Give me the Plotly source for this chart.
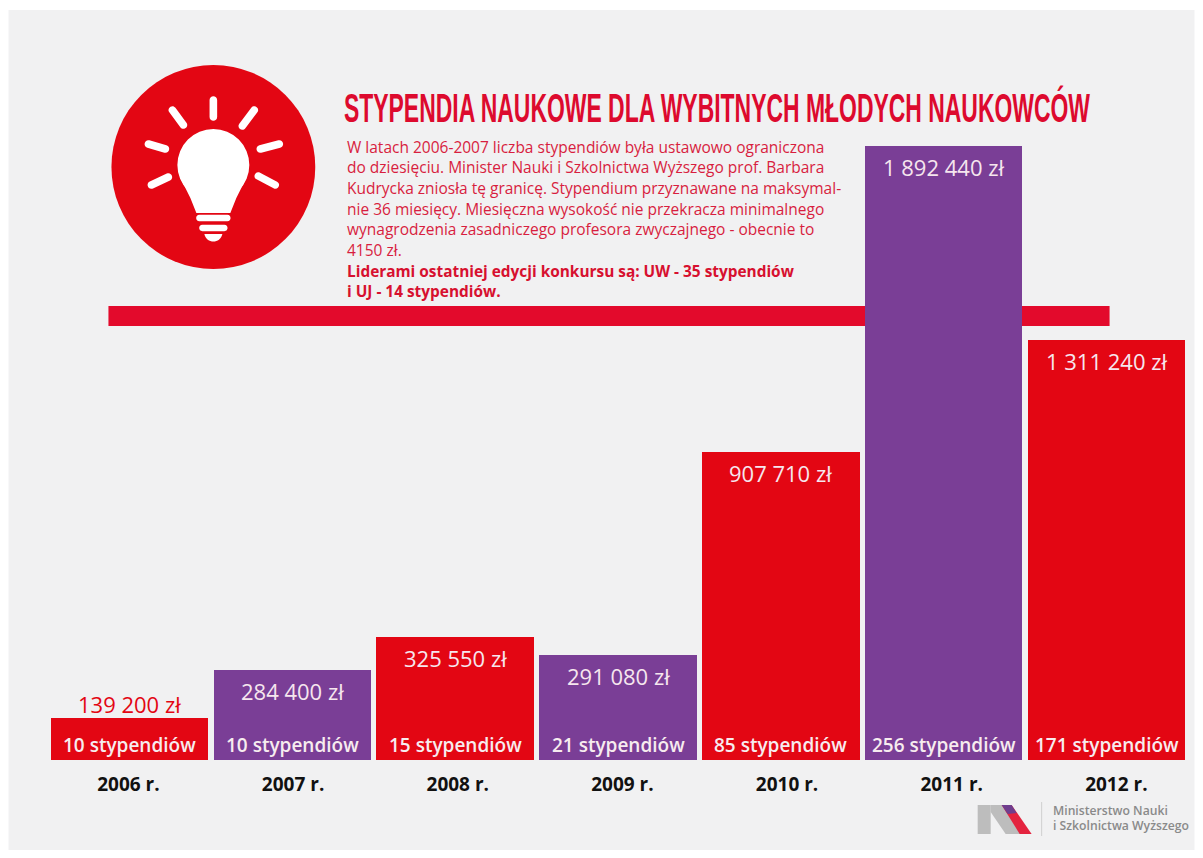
import plotly.graph_objects as go

# ---- data ----
years = ["2006 r.", "2007 r.", "2008 r.", "2009 r.", "2010 r.", "2011 r.", "2012 r."]
amount_labels = ["139 200 zł", "284 400 zł", "325 550 zł", "291 080 zł", "907 710 zł", "1 892 440 zł", "1 311 240 zł"]
# The infographic's bars are not strictly proportional to the printed amounts,
# so these are the bar heights as drawn, read on the 2011 bar's scale (zł).
drawn_heights = [129000, 277000, 379000, 324000, 949000, 1892440, 1294000]
grant_labels = ["10 stypendiów", "10 stypendiów", "15 stypendiów", "21 stypendiów", "85 stypendiów", "256 stypendiów", "171 stypendiów"]
bar_colors = ["#E30613", "#7A3E96", "#E30613", "#7A3E96", "#E30613", "#7A3E96", "#E30613"]

title = "STYPENDIA NAUKOWE DLA WYBITNYCH MŁODYCH NAUKOWCÓW"
body_lines = [
    "W latach 2006-2007 liczba stypendiów była ustawowo ograniczona",
    "do dziesięciu. Minister Nauki i Szkolnictwa Wyższego prof. Barbara",
    "Kudrycka zniosła tę granicę. Stypendium przyznawane na maksymal-",
    "nie 36 miesięcy. Miesięczna wysokość nie przekracza minimalnego",
    "wynagrodzenia zasadniczego profesora zwyczajnego - obecnie to",
    "4150 zł.",
]
bold_lines = ["Liderami ostatniej edycji konkursu są: UW - 35 stypendiów", "i UJ - 14 stypendiów."]
logo_lines = ["Ministerstwo Nauki", "i Szkolnictwa Wyższego"]

RED = "#E30613"
TEXT_RED = "#D81E3F"
W, H = 1187, 842   # page body margin of 8px supplies the white frame
LEFT, RIGHT, TOP, BASE = 47.5, 1188.5, 8, 760   # plot area in page pixels


def X(px):
    return (px - LEFT) / (RIGHT - LEFT)


def Y(py):
    return (BASE - py) / (BASE - TOP)


def P(x, y):
    return f"{X(x):.5f},{Y(y):.5f}"


def poly(points, color, layer="below"):
    d = "M" + "L".join(P(x, y) for x, y in points) + "Z"
    return dict(type="path", path=d, xref="paper", yref="paper", fillcolor=color, line_width=0, layer=layer)


def capsule(x0, y0, x1, y1, r):
    dx, dy = x1 - x0, y1 - y0
    n = (dx * dx + dy * dy) ** 0.5
    ux, uy = dx / n, dy / n
    nx, ny = -uy * r, ux * r
    k = 1.33 * r
    d = ("M" + P(x0 + nx, y0 + ny) + "L" + P(x1 + nx, y1 + ny)
         + "C" + P(x1 + nx + ux * k, y1 + ny + uy * k) + " " + P(x1 - nx + ux * k, y1 - ny + uy * k) + " " + P(x1 - nx, y1 - ny)
         + "L" + P(x0 - nx, y0 - ny)
         + "C" + P(x0 - nx - ux * k, y0 - ny - uy * k) + " " + P(x0 + nx - ux * k, y0 + ny - uy * k) + " " + P(x0 + nx, y0 + ny) + "Z")
    return dict(type="path", path=d, xref="paper", yref="paper", fillcolor="white", line_width=0, layer="below")


def circle(cx, cy, r, color):
    return dict(type="circle", xref="paper", yref="paper", x0=X(cx - r), x1=X(cx + r), y0=Y(cy + r), y1=Y(cy - r),
                fillcolor=color, line_width=0, layer="below")


shapes = [
    dict(type="rect", xref="paper", yref="paper", x0=X(8), x1=X(1195), y0=Y(850), y1=Y(10), fillcolor="#F1F1F2", line_width=0, layer="below"),
    dict(type="rect", xref="paper", yref="paper", x0=X(108), x1=X(1110), y0=Y(326), y1=Y(306), fillcolor="#E30A2C", line_width=0, layer="below"),
    circle(213, 167, 102, RED),
    circle(213, 165, 36, "white"),
    poly([(180, 178), (246, 178), (236, 198), (230, 213), (196, 213), (190, 198)], "white"),
    capsule(199, 218, 227, 218, 3.2),
    capsule(202, 228, 224, 228, 3.2),
    dict(type="path", xref="paper", yref="paper", fillcolor="white", line_width=0, layer="below",
         path="M" + P(204, 234) + "L" + P(222, 234) + "C" + P(220, 244) + " " + P(206, 244) + " " + P(204, 234) + "Z"),
    capsule(213, 100, 213, 117, 3.8),
    capsule(172, 110, 183, 125, 3.8),
    capsule(254, 110, 242, 126, 3.8),
    capsule(148, 144, 165, 149, 3.8),
    capsule(279, 144, 260, 149, 3.8),
    capsule(168, 177, 151, 185, 3.8),
    capsule(258, 176, 275, 185, 3.8),
    # ministry logo
    poly([(978, 805), (991, 805), (991, 834), (978, 834)], "#BDBDBD"),
    poly([(991, 805), (1006, 805), (1024, 834), (1006, 834), (991, 812)], "#BDBDBD"),
    poly([(1002, 805), (1012, 805), (1032, 834), (1020, 834)], "#E4233F"),
    poly([(1002, 805), (1012, 805), (1017, 813), (1008, 814)], "#6F3E8E"),
    dict(type="line", xref="paper", yref="paper", x0=X(1042), x1=X(1042), y0=Y(836), y1=Y(802), line=dict(color="#CFCFCF", width=1), layer="below"),
]

annotations = []


def note(px, py, text, size, color, family="Open Sans", anchor="left", weight=400):
    annotations.append(dict(xref="paper", yref="paper", x=X(px), y=Y(py), text=text, showarrow=False,
                            xanchor=anchor, yanchor="middle",
                            font=dict(size=size, color=color, family=family, weight=weight)))


note(717.5, 108, title, 41, "#DD0A2E", family="Liberation Sans", anchor="center", weight=700)
for text, py in zip(body_lines, [147, 167, 188, 209, 229, 250]):
    note(345, py, text, 15.5, TEXT_RED)
for text, py in zip(bold_lines, [271, 291]):
    note(345, py, f"<b>{text}</b>", 15.4, "#D7102F")
for text, py in zip(logo_lines, [810, 825]):
    note(1051, py, text, 12.2, "#8A8A8A", weight=600)

# value and grant labels are tied to the bars through the data axes
for i, (a, g, h) in enumerate(zip(amount_labels, grant_labels, drawn_heights)):
    first = i == 0
    annotations.append(dict(x=i, y=h, xref="x", yref="y", text=a, showarrow=False, xanchor="center",
                            yanchor="bottom" if first else "top", yshift=-3 if first else -4,
                            font=dict(size=22, family="Open Sans", color=RED if first else "#F6E6EE")))
    annotations.append(dict(x=i, y=0, xref="x", yref="y", text=g, showarrow=False, xanchor="center",
                            yanchor="bottom", yshift=0,
                            font=dict(size=19, family="Open Sans", color="#F7ECEF", weight=600)))

fig = go.Figure()
fig.add_bar(x=years, y=drawn_heights, marker=dict(color=bar_colors, line_width=0), width=0.966, hoverinfo="skip", showlegend=False)
# Transparent carrier for the year labels, which sit on a slightly wider pitch than the bars
fig.add_scatter(x=years, y=[0] * 7, mode="markers", marker=dict(opacity=0, size=1), xaxis="x2", hoverinfo="skip", showlegend=False)

first_year_px, pitch = 128, 164.8

fig.update_layout(
    width=W, height=H,
    margin=dict(l=LEFT - 8, r=8 + W - RIGHT, t=0, b=90, pad=0),
    paper_bgcolor="white", plot_bgcolor="rgba(0,0,0,0)",
    shapes=shapes, annotations=annotations,
    bargap=0,
    xaxis=dict(type="category", categoryarray=years, range=[-0.5, 6.5], showticklabels=False, showgrid=False,
               zeroline=False, showline=False, ticks=""),
    xaxis2=dict(type="category", categoryarray=years, overlaying="x", anchor="y", side="bottom",
                range=[(LEFT - first_year_px) / pitch, (RIGHT - first_year_px) / pitch],
                showgrid=False, zeroline=False, showline=False, ticks="", ticklabelstandoff=11,
                tickfont=dict(size=19, family="Open Sans", color="#111111", weight=700)),
    yaxis=dict(range=[0, 1892440 * 752 / 614], visible=False, fixedrange=True),
    font=dict(family="Open Sans"),
)

# The reference title is a condensed display face; no condensed font is installed,
# so the real text is narrowed to the reference's width.
squeeze = """
document.querySelectorAll('.annotation-text').forEach(function (t) {
  if (t.textContent.indexOf('STYPENDIA') === 0) {
    t.setAttribute('textLength', '746');
    t.setAttribute('lengthAdjust', 'spacingAndGlyphs');
  }
});
"""
fig.write_html("out.html", config=dict(displayModeBar=False), post_script=squeeze)
